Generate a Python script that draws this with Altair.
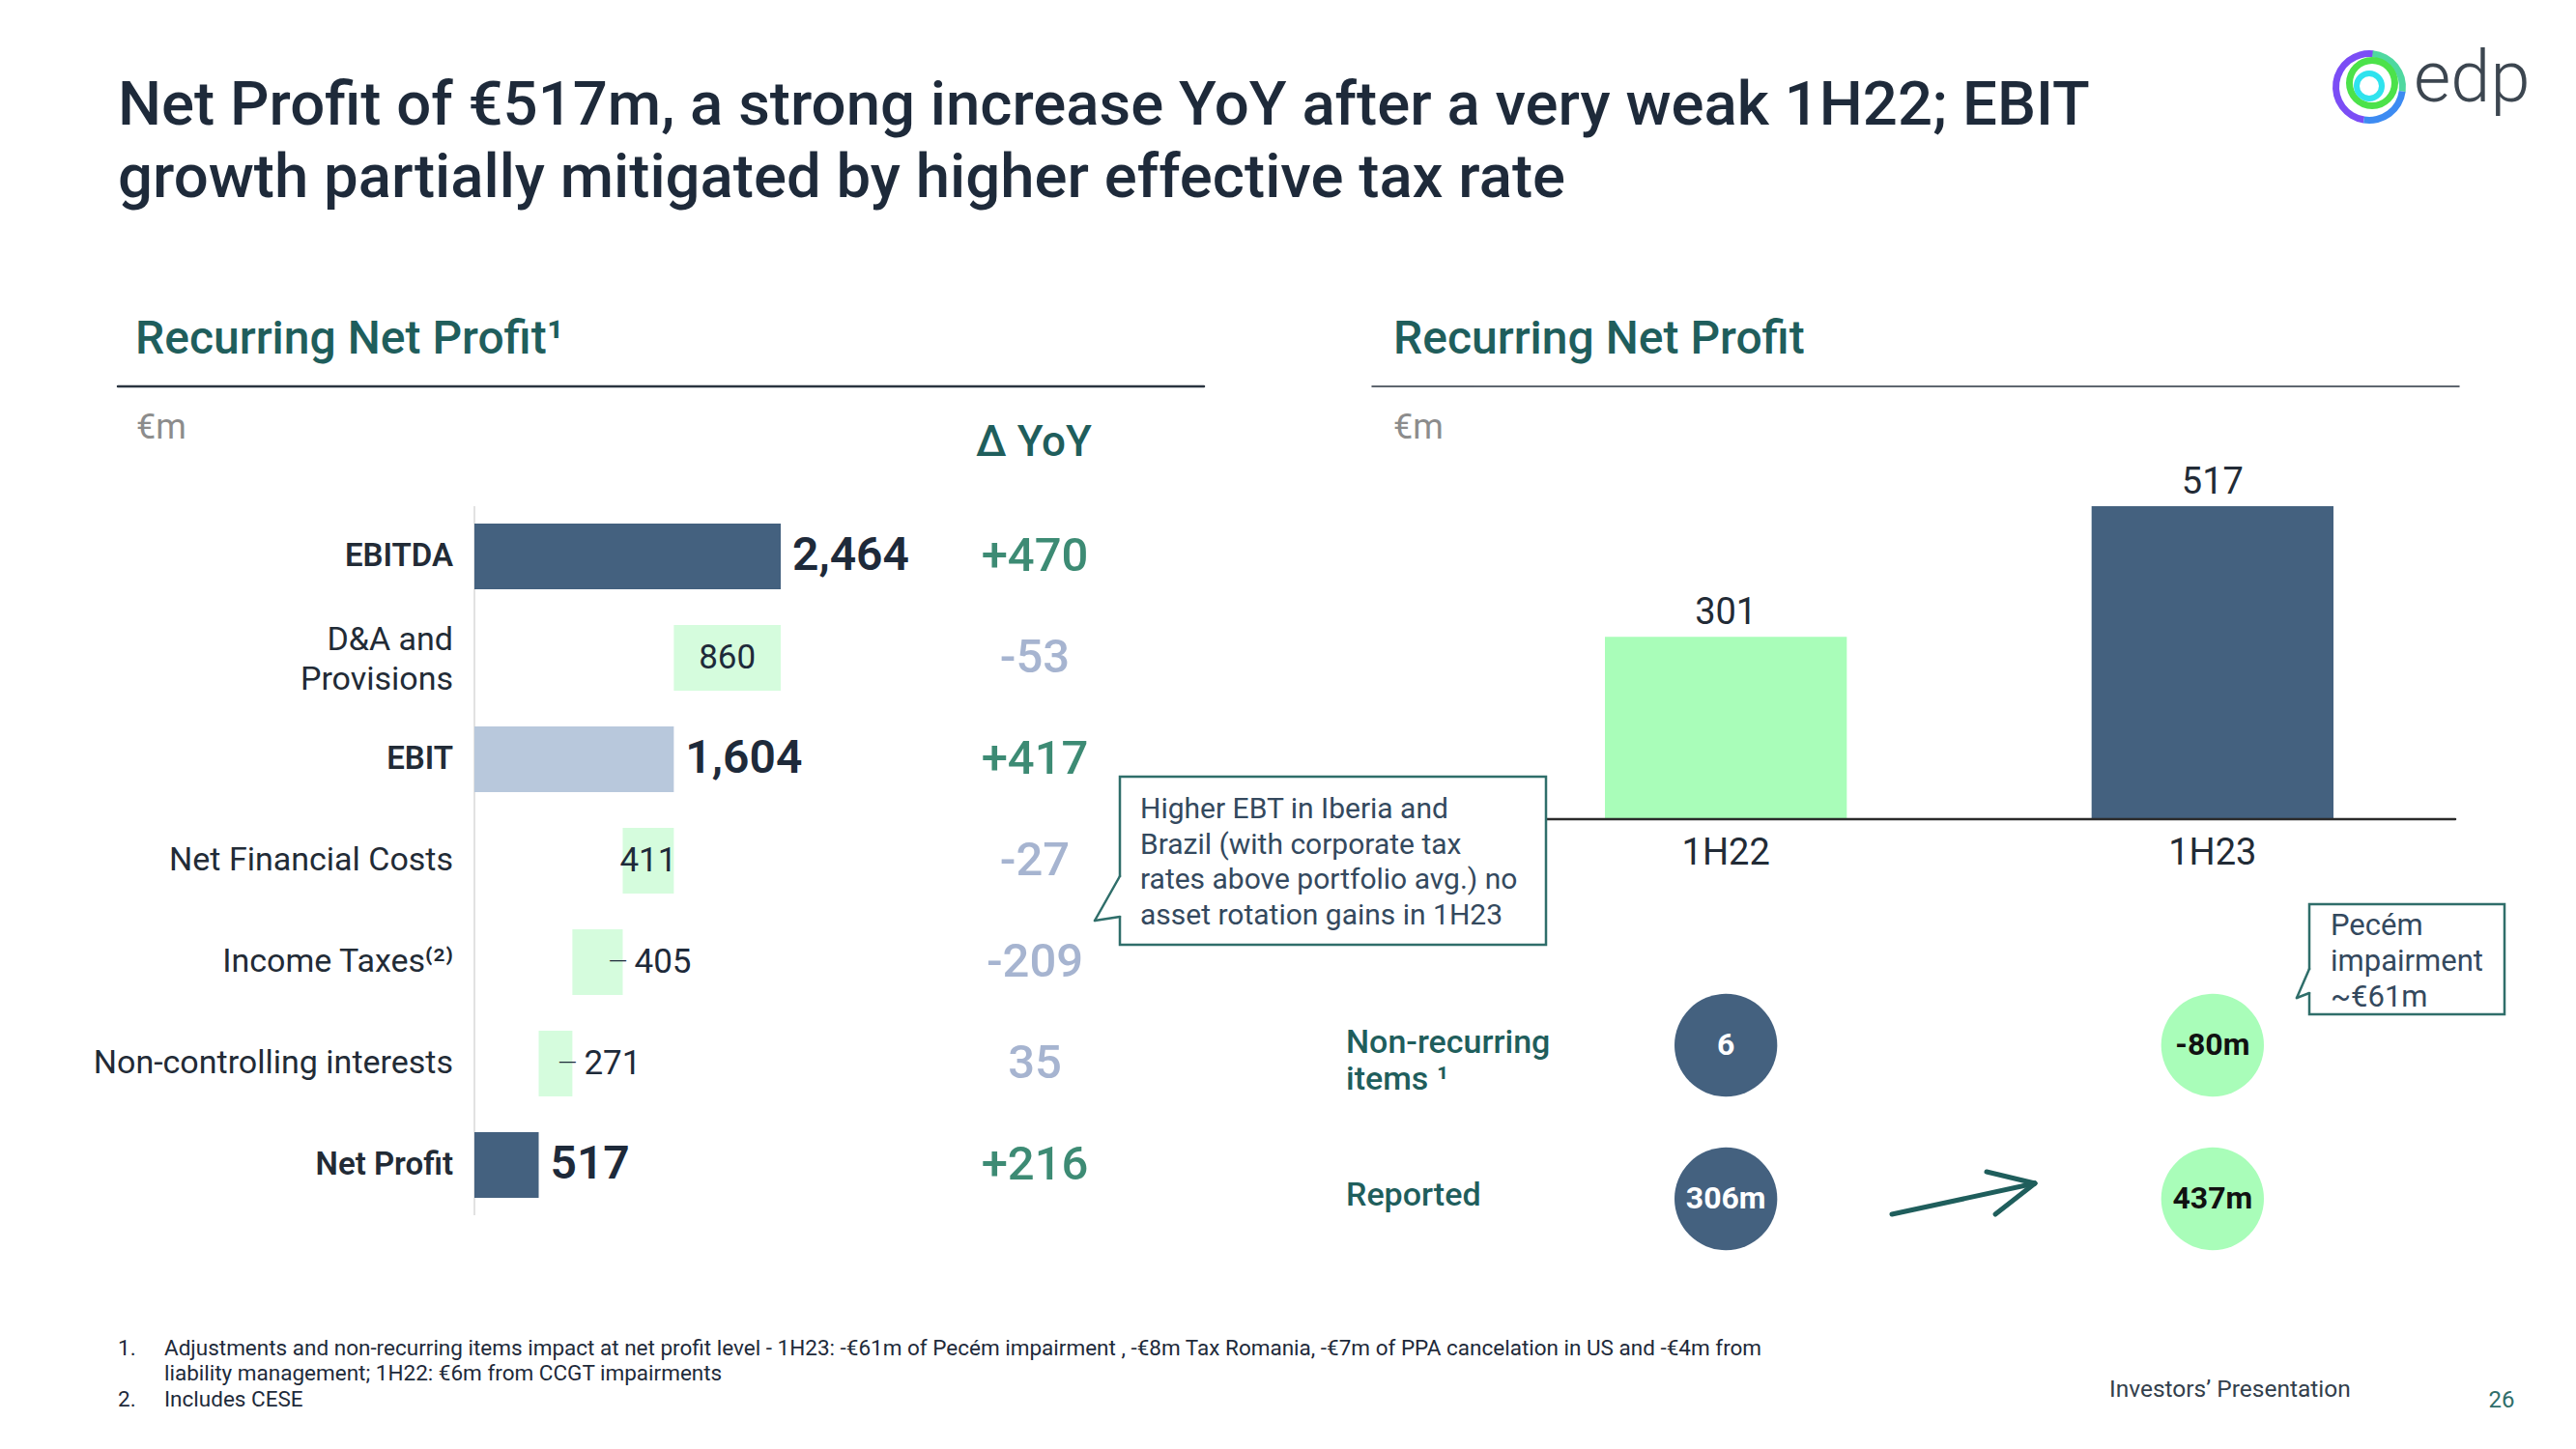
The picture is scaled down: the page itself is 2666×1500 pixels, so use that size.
import math
import altair as alt
import pandas as pd

# ------------------------------------------------------------------ data
wf_categories = ["EBITDA", "D&A and\nProvisions", "EBIT", "Net Financial Costs",
                 "Income Taxes⁽²⁾", "Non-controlling interests", "Net Profit"]
wf_values = [2464, 860, 1604, 411, 405, 271, 517]
wf_kinds = ["total", "decrease", "total", "decrease", "decrease", "decrease", "total"]
wf_fill = ["main", "cost", "ebit", "cost", "cost", "cost", "main"]
wf_label_style = ["outside", "inside", "outside", "inside", "leader", "leader", "outside"]
yoy_text = ["+470", "-53", "+417", "-27", "-209", "35", "+216"]
yoy_tone = ["up", "down", "up", "down", "down", "down", "up"]

rnp_periods = ["1H22", "1H23"]
rnp_values = [301, 517]
circle_rows = ["nonrec", "reported"]
nonrec_text = ["6", "-80m"]
reported_text = ["306m", "437m"]
period_tone = ["dark", "light"]

# ------------------------------------------------------------------ tables
starts, ends = [], []
level = 0
for v, k in zip(wf_values, wf_kinds):
    if k == "total":
        starts.append(0)
        ends.append(v)
        level = v
    else:
        starts.append(level - v)
        ends.append(level)
        level -= v

wf_df = pd.DataFrame({
    "category": wf_categories,
    "value": wf_values,
    "kind": wf_kinds,
    "start": starts,
    "end": ends,
    "fill": wf_fill,
    "style": wf_label_style,
    "vtext": [f"{v:,}" for v in wf_values],
    "yoy": yoy_text,
    "tone": yoy_tone,
})
wf_df["mid"] = (wf_df["start"] + wf_df["end"]) / 2
wf_df["multiline"] = wf_df["category"].str.contains("\n")

rnp_df = pd.DataFrame({"period": rnp_periods, "value": rnp_values})

circ_df = pd.DataFrame({
    "period": rnp_periods * 2,
    "row": [circle_rows[0]] * 2 + [circle_rows[1]] * 2,
    "text": nonrec_text + reported_text,
    "tone": period_tone * 2,
})

# ------------------------------------------------------------------ layout helpers
W, H = 2650, 1484
FONT = "Roboto"
TITLE_C = "#1E2A3A"
TEAL = "#1F5E5C"
BORDER = "#2F6E6A"
DARK = "#44617F"
GREEN = "#A9FDB9"
PALE = "#D5FCDD"
EBITC = "#B8C8DC"
TEXT_C = "#222B36"


def X(v):
    return v - 8


def Y(v):
    return v - 8


def label(txt, x, y, size, color, weight=400, align="left", baseline="alphabetic", lh=None):
    kw = {}
    if lh:
        kw["lineHeight"] = lh
    return alt.Chart().mark_text(
        text=txt, align=align, baseline=baseline, fontSize=size, fontWeight=weight,
        color=color, font=FONT, lineBreak="\n", **kw
    ).encode(x=alt.value(X(x)), y=alt.value(Y(y)))


def seg(x1, y1, x2, y2, color, w):
    return alt.Chart().mark_rule(color=color, strokeWidth=w, strokeCap="round").encode(
        x=alt.value(X(x1)), y=alt.value(Y(y1)), x2=alt.value(X(x2)), y2=alt.value(Y(y2)))


def box(x1, y1, x2, y2, stroke, w):
    return alt.Chart().mark_rect(fill="white", stroke=stroke, strokeWidth=w).encode(
        x=alt.value(X(x1)), y=alt.value(Y(y1)), x2=alt.value(X(x2)), y2=alt.value(Y(y2)))


def arc(cx, cy, r_in, r_out, t0, t1, color):
    return alt.Chart().mark_arc(radius=r_out, radius2=r_in, theta=t0, theta2=t1, color=color).encode(
        x=alt.value(X(cx)), y=alt.value(Y(cy)))


layers = []

# ------------------------------------------------------------------ header
layers.append(label("Net Profit of €517m, a strong increase YoY after a very weak 1H22; EBIT",
                    122, 129, 63.5, TITLE_C, 500))
layers.append(label("growth partially mitigated by higher effective tax rate",
                    122, 204, 63.5, TITLE_C, 500))

# logo
lc = (2452, 90)
layers += [
    arc(lc[0], lc[1], 31, 38, 3.3, 6.4, "#7B4DF5"),
    arc(lc[0], lc[1], 31, 38, 0.1, 1.7, "#4FD8A0"),
    arc(lc[0], lc[1], 31, 38, 1.7, 3.3, "#3D8BF2"),
    arc(2455, 86, 20, 27, 0, 6.2832, "#4CE24A"),
    arc(2452, 89, 10, 16, 0, 6.2832, "#2FE3EE"),
]
layers.append(label("edp", 2498, 105, 74, "#3C4650", 300))

# section headers
layers.append(label("Recurring Net Profit¹", 140, 366, 48, TEAL, 500))
layers.append(label("Recurring Net Profit", 1442, 366, 48, TEAL, 500))
layers.append(seg(122, 400, 1246, 400, "#2A3440", 2.5))
layers.append(seg(1420, 400, 2545, 400, "#2A3440", 1.5))
layers.append(label("€m", 141, 454, 36, "#8C8C8C", 400))
layers.append(label("€m", 1442, 454, 36, "#8C8C8C", 400))
layers.append(label("Δ YoY", 1070, 472, 44, TEAL, 500, align="center"))

# ------------------------------------------------------------------ waterfall
wf_x = alt.Scale(domain=[0, 2464], range=[X(491), X(808)], nice=False, zero=True)
wf_y = alt.Scale(type="band", domain=wf_categories, range=[Y(542), Y(1240)],
                 paddingInner=0.3524, paddingOuter=0)
fill_scale = alt.Scale(domain=["main", "cost", "ebit"], range=[DARK, PALE, EBITC])
tone_scale = alt.Scale(domain=["up", "down"], range=["#3D8B74", "#A6B4D0"])

base = alt.Chart(wf_df)
ycat = alt.Y("category:N", scale=wf_y, axis=None, sort=None)

layers.append(alt.Chart().mark_rule(color="#D9D9D9", strokeWidth=1.5).encode(
    x=alt.value(X(491)), y=alt.value(Y(524)), y2=alt.value(Y(1258))))

layers.append(base.mark_bar().encode(
    x=alt.X("start:Q", scale=wf_x, axis=None), x2="end:Q", y=ycat,
    color=alt.Color("fill:N", scale=fill_scale, legend=None)))

layers.append(base.transform_filter("datum.kind == 'total'").mark_text(
    align="right", baseline="middle", fontSize=33, fontWeight=600, color=TEXT_C, font=FONT,
    lineBreak="\n").encode(x=alt.value(X(469)), y=ycat, text="category:N"))
layers.append(base.transform_filter("datum.kind != 'total' && !datum.multiline").mark_text(
    align="right", baseline="middle", fontSize=34, fontWeight=400, color=TEXT_C, font=FONT,
    lineBreak="\n").encode(x=alt.value(X(469)), y=ycat, text="category:N"))
layers.append(base.transform_filter("datum.kind != 'total' && datum.multiline").mark_text(
    align="right", baseline="middle", dy=-18, fontSize=34, fontWeight=400, color=TEXT_C, font=FONT,
    lineBreak="\n", lineHeight=41).encode(x=alt.value(X(469)), y=ycat, text="category:N"))

layers.append(base.transform_filter("datum.style == 'outside'").mark_text(
    align="left", baseline="middle", dx=12, fontSize=48, fontWeight=600, color=TITLE_C, font=FONT
).encode(x=alt.X("end:Q", scale=wf_x, axis=None), y=ycat, text="vtext:N"))
layers.append(base.transform_filter("datum.style == 'inside'").mark_text(
    align="center", baseline="middle", fontSize=35, fontWeight=400, color=TITLE_C, font=FONT
).encode(x=alt.X("mid:Q", scale=wf_x, axis=None), y=ycat, text="vtext:N"))
layers.append(base.transform_filter("datum.style == 'leader'").mark_text(
    align="center", baseline="middle", dx=-5, fontSize=26, fontWeight=300, color=TITLE_C, font=FONT,
    text="—").encode(x=alt.X("end:Q", scale=wf_x, axis=None), y=ycat))
layers.append(base.transform_filter("datum.style == 'leader'").mark_text(
    align="left", baseline="middle", dx=12, fontSize=35, fontWeight=400, color=TITLE_C, font=FONT
).encode(x=alt.X("end:Q", scale=wf_x, axis=None), y=ycat, text="vtext:N"))

layers.append(base.mark_text(
    align="center", baseline="middle", fontSize=49, fontWeight=500, font=FONT
).encode(x=alt.value(X(1071)), y=ycat, text="yoy:N",
         color=alt.Color("tone:N", scale=tone_scale, legend=None)))

# ------------------------------------------------------------------ right bar chart
rp_x = alt.Scale(type="band", domain=rnp_periods, range=[X(1661), X(2415)],
                 paddingInner=0.503, paddingOuter=0)
rp_y = alt.Scale(domain=[0, 517], range=[Y(848), Y(524)], nice=False, zero=True)
per_scale = alt.Scale(domain=rnp_periods, range=[GREEN, DARK])
rbase = alt.Chart(rnp_df)
xper = alt.X("period:N", scale=rp_x, axis=None, sort=None)

layers.append(rbase.mark_bar().encode(
    x=xper, y=alt.Y("value:Q", scale=rp_y, axis=None),
    color=alt.Color("period:N", scale=per_scale, legend=None)))
layers.append(rbase.mark_text(baseline="alphabetic", dy=-13, fontSize=38, color=TEXT_C, font=FONT
                              ).encode(x=xper, y=alt.Y("value:Q", scale=rp_y, axis=None), text="value:Q"))
layers.append(rbase.mark_text(baseline="alphabetic", fontSize=38, color=TEXT_C, font=FONT
                              ).encode(x=xper, y=alt.value(Y(895)), text="period:N"))
layers.append(seg(1600, 848, 2541, 848, "#2B2B2B", 2.5))

# circles
cy = alt.Scale(type="point", domain=circle_rows, range=[Y(1082), Y(1241)], padding=0)
cbase = alt.Chart(circ_df)
layers.append(cbase.mark_circle(size=math.pi * 60 ** 2, opacity=1).encode(
    x=xper, y=alt.Y("row:N", scale=cy, axis=None),
    color=alt.Color("tone:N", scale=alt.Scale(domain=["dark", "light"], range=[DARK, GREEN]), legend=None)))
layers.append(cbase.mark_text(baseline="middle", fontSize=32, fontWeight=700, font=FONT).encode(
    x=xper, y=alt.Y("row:N", scale=cy, axis=None), text="text:N",
    color=alt.Color("tone:N", scale=alt.Scale(domain=["dark", "light"], range=["#FFFFFF", "#111111"]),
                    legend=None)))

layers.append(label("Non-recurring\nitems ¹", 1393, 1090, 34, TEAL, 500, lh=38))
layers.append(label("Reported", 1393, 1248, 34, TEAL, 500))

# arrow
layers.append(seg(1958, 1257, 2106, 1225, TEAL, 5))
layers.append(seg(2056, 1213, 2106, 1225, TEAL, 5))
layers.append(seg(2065, 1257, 2106, 1225, TEAL, 5))

# ------------------------------------------------------------------ callouts
layers.append(box(1159, 804, 1600, 978, BORDER, 2.5))
layers.append(seg(1159, 910, 1159, 946, "white", 5))
layers.append(seg(1159, 907, 1133, 953, BORDER, 2.5))
layers.append(seg(1133, 953, 1159, 949, BORDER, 2.5))
layers.append(label("Higher EBT in Iberia and\nBrazil (with corporate tax\nrates above portfolio avg.) no\nasset rotation gains in 1H23",
                    1180, 847, 30, "#34495E", 400, lh=36.5))

layers.append(box(2390, 936, 2592, 1050, BORDER, 2.5))
layers.append(seg(2390, 1006, 2390, 1025, "white", 5))
layers.append(seg(2390, 1003, 2377, 1033, BORDER, 2.5))
layers.append(seg(2377, 1033, 2390, 1028, BORDER, 2.5))
layers.append(label("Pecém\nimpairment\n~€61m", 2412, 968, 31, "#34495E", 400, lh=37))

# ------------------------------------------------------------------ footnotes
layers.append(label("1.", 122, 1403, 22.5, TITLE_C))
layers.append(label("Adjustments and non-recurring items impact at net profit level - 1H23: -€61m of Pecém impairment , -€8m Tax Romania, -€7m of PPA cancelation in US and -€4m from\nliability management; 1H22: €6m from CCGT impairments",
                    170, 1403, 22.5, TITLE_C, lh=26))
layers.append(label("2.", 122, 1456, 22.5, TITLE_C))
layers.append(label("Includes CESE", 170, 1456, 22.5, TITLE_C))
layers.append(label("Investors’ Presentation", 2183, 1446, 24.5, "#333F4C"))
layers.append(label("26", 2589, 1457, 24, BORDER, align="center"))

chart = alt.layer(*layers, data=pd.DataFrame({"one": [1]})).properties(
    width=W, height=H, padding=0, autosize="none", background="white"
).resolve_scale(x="independent", y="independent", color="independent").configure_view(stroke=None)

chart.save("out.html", embed_options={"renderer": "svg", "actions": False})
